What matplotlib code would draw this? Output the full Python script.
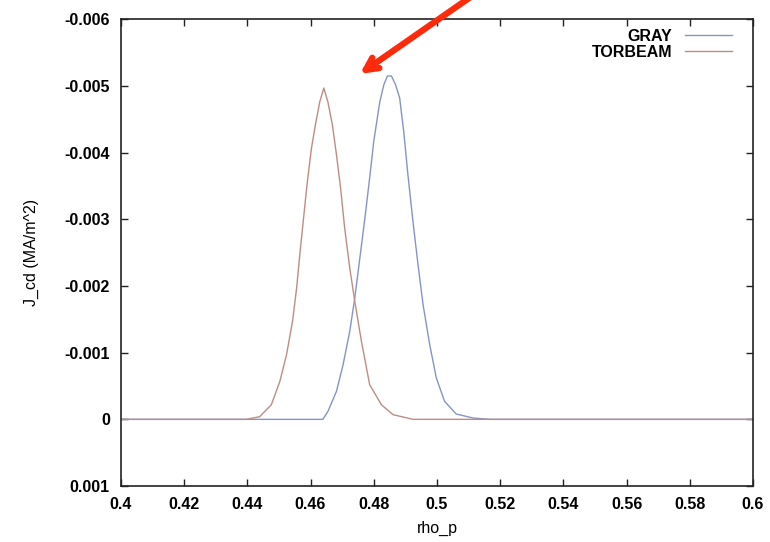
"""
Current drive profiles, GRAY vs TORBEAM
"""

import matplotlib
matplotlib.use('Agg')
import matplotlib.pyplot as plt  # pylint: disable=import-error
from matplotlib.ticker import FuncFormatter

# values
rho_gray = [0.40, 0.4639, 0.4655, 0.4682, 0.4703, 0.4724, 0.4740, 0.4756, 0.4772,
            0.4787, 0.4800, 0.4819, 0.4832, 0.4843, 0.4856, 0.4869, 0.4882,
            0.4895, 0.4908, 0.4924, 0.4940, 0.4956, 0.4977, 0.4998, 0.5024,
            0.5061, 0.5114, 0.5167, 0.60]
jcd_gray = [0.0, 0.0, -0.00012, -0.00042, -0.00082, -0.00132, -0.00182, -0.00242,
            -0.00302, -0.00362, -0.00417, -0.00476, -0.00502, -0.00515, -0.00515,
            -0.00502, -0.00482, -0.00431, -0.00367, -0.00297, -0.00232, -0.00172,
            -0.00112, -0.00062, -0.00027, -0.00008, -0.00002, 0.0, 0.0]

rho_torbeam = [0.40, 0.4397, 0.4439, 0.4476, 0.4503, 0.4524, 0.4543, 0.4556,
               0.4566, 0.4579, 0.4590, 0.4603, 0.4617, 0.4629, 0.4642, 0.4655,
               0.4669, 0.4682, 0.4695, 0.4708, 0.4724, 0.4740, 0.4761, 0.4775,
               0.4787, 0.4824, 0.4861, 0.4924, 0.60]
jcd_torbeam = [0.0, 0.0, -0.00004, -0.00022, -0.00057, -0.00097, -0.00147, -0.00197,
               -0.00247, -0.00307, -0.00357, -0.00407, -0.00446, -0.00476, -0.00497,
               -0.00476, -0.00442, -0.00397, -0.00347, -0.00287, -0.00227, -0.00177,
               -0.00117, -0.00082, -0.00052, -0.00022, -0.00007, 0.0, 0.0]

x_ticks = [0.4, 0.42, 0.44, 0.46, 0.48, 0.5, 0.52, 0.54, 0.56, 0.58, 0.6]
y_ticks = [0.001, 0.0, -0.001, -0.002, -0.003, -0.004, -0.005, -0.006]


def main():
    """
    Draw the figure
    """
    plt.rcParams['font.family'] = ['Liberation Sans', 'DejaVu Sans']
    plt.rcParams['font.weight'] = 'bold'
    plt.rcParams['axes.unicode_minus'] = False

    fig = plt.figure(figsize=(7.7, 5.42), dpi=100)
    ax = fig.add_axes([0.157, 0.1033, 0.821, 0.861])

    ax.plot(rho_gray, jcd_gray, color='#8594c8', lw=1.0, label='GRAY')
    ax.plot(rho_torbeam, jcd_torbeam, color='#bf8c84', lw=1.0, label='TORBEAM')

    ax.set_xlim(0.4, 0.6)
    ax.set_ylim(0.001, -0.006)
    ax.set_xticks(x_ticks)
    ax.set_yticks(y_ticks)
    ax.xaxis.set_major_formatter(FuncFormatter(lambda v, p: '%g' % round(v, 4)))
    ax.yaxis.set_major_formatter(FuncFormatter(lambda v, p: '%g' % round(v, 4)))
    ax.tick_params(direction='in', length=5, width=1, top=True, right=True,
                   labelsize=11.5, pad=8, color='#222222')
    for spine in ax.spines.values():
        spine.set_linewidth(1.2)
        spine.set_color('#222222')

    ax.set_xlabel('rho_p', fontsize=11.5, labelpad=6)
    ax.set_ylabel('J_cd (MA/m^2)', fontsize=11.5, labelpad=18)

    leg = ax.legend(loc='upper right', bbox_to_anchor=(0.977, 0.993),
                    markerfirst=False, frameon=False, borderaxespad=0.0,
                    handlelength=2.94, fontsize=11.5, labelspacing=0.05,
                    handletextpad=0.8)
    for txt in leg.get_texts():
        txt.set_ha('right')

    ax.annotate('', xy=(0.4756, -0.00518), xytext=(0.5138, -0.00644),
                xycoords='data', annotation_clip=False,
                arrowprops=dict(arrowstyle='->,head_length=0.9,head_width=0.45',
                                color='#ff2a0a', lw=4.5, shrinkA=0, shrinkB=0))

    fig.savefig('out.png', dpi=100)


if __name__ == "__main__":
    main()
